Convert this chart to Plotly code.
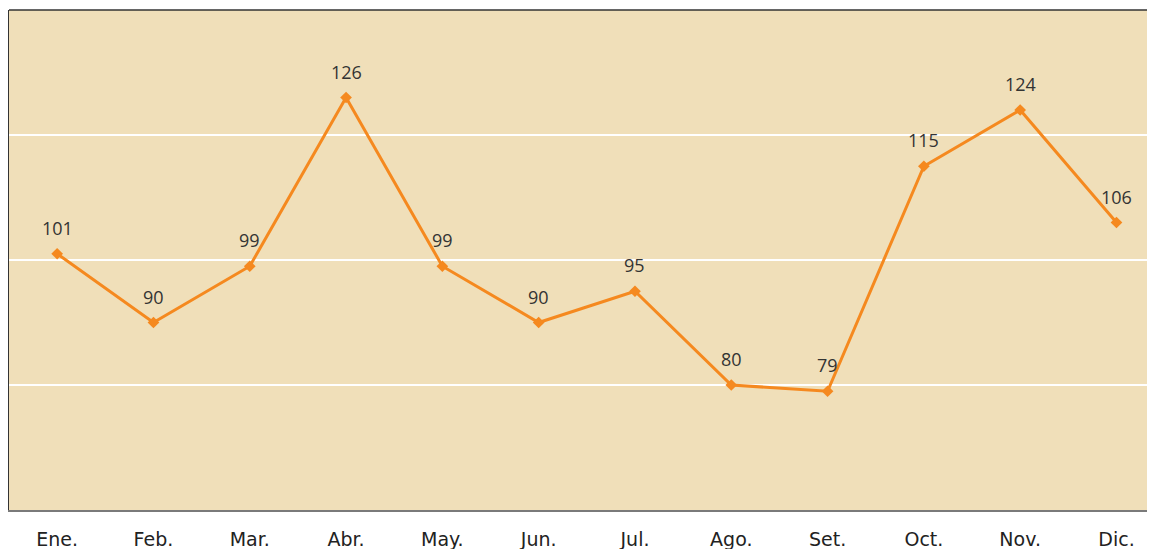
import plotly.graph_objects as go

months = ["Ene.", "Feb.", "Mar.", "Abr.", "May.", "Jun.", "Jul.", "Ago.", "Set.", "Oct.", "Nov.", "Dic."]
values = [101, 90, 99, 126, 99, 90, 95, 80, 79, 115, 124, 106]

orange = "#f5891f"

fig = go.Figure()
fig.add_trace(go.Scatter(
    x=list(range(len(months))), y=values, mode="lines+markers",
    line=dict(color=orange, width=3),
    marker=dict(symbol="diamond", size=9, color=orange),
    hoverinfo="skip", showlegend=False,
))
for i, v in enumerate(values):
    fig.add_annotation(x=i, y=v, text=str(v), showarrow=False, yshift=26,
                       font=dict(family="Open Sans", size=18, color="#333333"))

fig.update_layout(
    width=1147, height=541,
    margin=dict(l=1, r=0, t=2, b=39),
    paper_bgcolor="white",
    plot_bgcolor="#f0dfb9",
    xaxis=dict(
        range=[-0.5, 11.4], tickmode="array",
        tickvals=list(range(len(months))), ticktext=months,
        showgrid=False, zeroline=False,
        showline=True, linecolor="#7a7a7a", linewidth=2,
        tickfont=dict(family="DejaVu Sans", size=19, color="#222222"),
        ticks="", ticklabelstandoff=11,
    ),
    yaxis=dict(
        range=[60, 140], tickvals=[80, 100, 120],
        showgrid=True, gridcolor="#ffffff", gridwidth=1.5,
        zeroline=False, showticklabels=False,
        showline=True, linecolor="#333333", linewidth=2,
    ),
    shapes=[dict(type="line", xref="paper", yref="paper", x0=0, x1=1, y0=1, y1=1,
                 line=dict(color="#333333", width=1.5))],
)

fig.write_html("out.html")
